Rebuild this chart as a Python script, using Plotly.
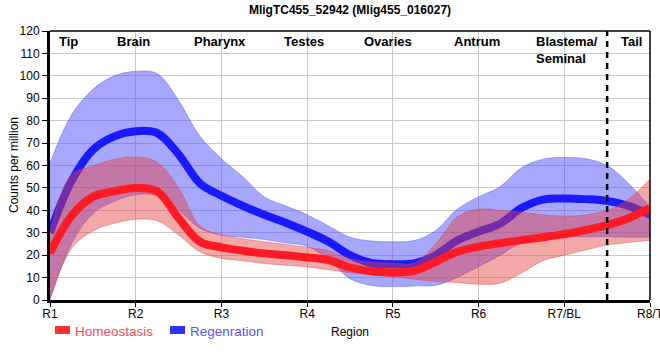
import plotly.graph_objects as go

# ---------------- data ----------------
TICK_LABELS = ["R1", "R2", "R3", "R4", "R5", "R6", "R7/BL", "R8/T"]
TICK_POS = [0, 1, 2, 3, 4, 5, 6, 7]

REGION_NAMES = ["Tip", "Brain", "Pharynx", "Testes", "Ovaries", "Antrum",
                "Blastema/<br>Seminal", "Tail"]
REGION_POS = [0.22, 0.97, 1.98, 2.96, 3.94, 4.98, 5.65, 6.78]
REGION_ANCHOR = ["center", "center", "center", "center", "center", "center", "left", "center"]

DIVIDER_POS = 6.5

POS = [0, 0.25, 0.5, 0.75, 1.0, 1.25, 1.5, 1.75, 2.0, 2.25, 2.5, 2.75, 3.0, 3.25,
       3.5, 3.75, 4.0, 4.25, 4.5, 4.75, 5.0, 5.25, 5.5, 5.75, 6.0, 6.25, 6.5, 6.75, 7.0]

homeo_mean = [21, 37.5, 46, 48.5, 50, 48.5, 36.5, 26, 23.5, 22, 20.8, 20, 19, 17.8,
              14.5, 12.8, 12.3, 13, 17, 21.5, 23.8, 25.3, 26.7, 28, 29.4, 31.2, 33.4, 36.5, 41]
homeo_upper = [30, 56, 59.8, 62.8, 63.8, 61.5, 50, 33, 29, 27.3, 26, 24.8, 23.5, 22,
               18.5, 16.8, 16.5, 16.5, 25, 37, 40.5, 40, 39.2, 38, 37.4, 38, 40, 45, 54]
homeo_lower = [0.5, 23, 30.8, 34.2, 36, 35.3, 29, 21.5, 18.6, 17.5, 16.3, 15.5, 14.8, 13.5,
               12.2, 11.2, 10.4, 9.3, 8.2, 7.8, 7, 7.5, 12, 17.5, 20, 22.3, 24.5, 25.7, 26.7]

regen_mean = [30, 53, 67, 73, 75.3, 74.5, 65, 52, 46.5, 42, 38, 34.5, 30.5, 26,
              20, 16.5, 16, 16.3, 20, 26.5, 30.5, 34, 41, 44.8, 45.3, 45, 44.2, 42, 38]
regen_upper = [61, 82.5, 94, 100, 102, 101, 89, 73, 63, 55, 46, 42, 38, 33,
               28, 26.3, 26, 26.5, 31, 40.5, 46, 50.5, 59, 62.8, 63.6, 63, 60, 52, 41.5]
regen_lower = [0, 25, 38.5, 44, 47, 46.5, 40, 32, 29, 28, 27, 25.5, 24, 18,
               9.5, 6.5, 6, 6.3, 6.5, 10, 14.8, 20, 25.5, 27.8, 28.2, 28.2, 28.2, 28, 28]

SERIES_NAMES = ["Homeostasis", "Regenration"]

# ---------------- styles ----------------
FONT = "Liberation Sans, Arial, sans-serif"
W, H = 660, 360
ML, MR, MT, MB = 50, 10, 31, 60
PW, PH = W - ML - MR, H - MT - MB


def px_x(px):
    return (px - ML) / PW


def px_y(py):
    return (H - MB - py) / PH


fig = go.Figure()


def add_band(lower, upper, fillcol, edgecol):
    fig.add_trace(go.Scatter(x=POS, y=lower, mode="lines",
                             line=dict(width=0.8, color=edgecol, shape="spline"),
                             hoverinfo="skip", showlegend=False))
    fig.add_trace(go.Scatter(x=POS, y=upper, mode="lines", fill="tonexty",
                             fillcolor=fillcol,
                             line=dict(width=0.8, color=edgecol, shape="spline"),
                             hoverinfo="skip", showlegend=False))


# regeneration band & line first, then homeostasis band & line on top
add_band(regen_lower, regen_upper, "rgba(80,80,248,0.50)", "rgba(80,80,248,0.55)")
fig.add_trace(go.Scatter(x=POS, y=regen_mean, mode="lines", name=SERIES_NAMES[1],
                         line=dict(width=8, color="#1a1aff", shape="spline"),
                         showlegend=False))
add_band(homeo_lower, homeo_upper, "rgba(228,62,62,0.45)", "rgba(228,62,62,0.5)")
fig.add_trace(go.Scatter(x=POS, y=homeo_mean, mode="lines", name=SERIES_NAMES[0],
                         line=dict(width=8, color="#ff1a24", shape="spline"),
                         showlegend=False))

shapes = [
    # divider
    dict(type="line", xref="x", yref="paper", x0=DIVIDER_POS, x1=DIVIDER_POS, y0=0, y1=1,
         line=dict(color="black", width=2.5, dash="6px,5px")),
    # top and right frame
    dict(type="line", xref="paper", yref="paper", x0=0, x1=1, y0=1, y1=1,
         line=dict(color="black", width=1.5)),
    dict(type="line", xref="paper", yref="paper", x0=1, x1=1, y0=0, y1=1,
         line=dict(color="black", width=1.5)),
    # legend swatches
    dict(type="rect", xref="paper", yref="paper", x0=px_x(55), x1=px_x(70),
         y0=px_y(334), y1=px_y(326), fillcolor="#ff3030", line=dict(width=0)),
    dict(type="rect", xref="paper", yref="paper", x0=px_x(170), x1=px_x(185),
         y0=px_y(334), y1=px_y(326), fillcolor="#3030ff", line=dict(width=0)),
]

annotations = []
for name, pos, anc in zip(REGION_NAMES, REGION_POS, REGION_ANCHOR):
    annotations.append(dict(x=pos, y=1, xref="x", yref="paper", text="<b>%s</b>" % name,
                            showarrow=False, xanchor=anc, yanchor="top", yshift=-1,
                            align="left", font=dict(family=FONT, size=13, color="black")))

annotations += [
    dict(x=px_x(73), y=px_y(331), xref="paper", yref="paper", text=SERIES_NAMES[0],
         showarrow=False, xanchor="left", yanchor="middle",
         font=dict(family=FONT, size=13.5, color="#f54a5a")),
    dict(x=px_x(188), y=px_y(331), xref="paper", yref="paper", text=SERIES_NAMES[1],
         showarrow=False, xanchor="left", yanchor="middle",
         font=dict(family=FONT, size=13.5, color="#5555ff")),
    dict(x=0.5, y=px_y(332), xref="paper", yref="paper", text="Region",
         showarrow=False, xanchor="center", yanchor="middle",
         font=dict(family=FONT, size=12, color="black")),
    dict(x=px_x(14), y=px_y(165), xref="paper", yref="paper", text="Counts per million",
         showarrow=False, xanchor="center", yanchor="middle", textangle=-90,
         font=dict(family=FONT, size=12, color="black")),
]

fig.update_layout(
    width=W, height=H,
    margin=dict(l=ML, r=MR, t=MT, b=MB, autoexpand=False),
    paper_bgcolor="white", plot_bgcolor="white",
    title=dict(text="<b>MligTC455_52942 (Mlig455_016027)</b>", x=0.5, xref="paper",
               xanchor="center", y=1 - 10 / H, yanchor="middle",
               font=dict(family=FONT, size=12, color="black")),
    font=dict(family=FONT, size=12, color="black"),
    showlegend=False,
    shapes=shapes,
    annotations=annotations,
)

fig.update_xaxes(range=[0, 7], tickvals=TICK_POS, ticktext=TICK_LABELS,
                 showgrid=True, gridcolor="#c8c8c8", gridwidth=1,
                 showline=True, linecolor="black", linewidth=3,
                 ticks="outside", ticklen=4, tickcolor="black", tickwidth=1,
                 ticklabeloverflow="allow", ticklabelstandoff=-3,
                 tickfont=dict(family=FONT, size=12, color="black"), zeroline=False)
fig.update_yaxes(range=[0, 120], dtick=10, tick0=0,
                 showgrid=True, gridcolor="#c8c8c8", gridwidth=1,
                 showline=True, linecolor="black", linewidth=3,
                 ticks="outside", ticklen=5, tickcolor="black", tickwidth=1,
                 tickfont=dict(family=FONT, size=12, color="black"), zeroline=False)

fig.write_html("out.html", config={"displayModeBar": False},
               post_script="document.body.style.margin='0';document.body.style.overflow='hidden';")
